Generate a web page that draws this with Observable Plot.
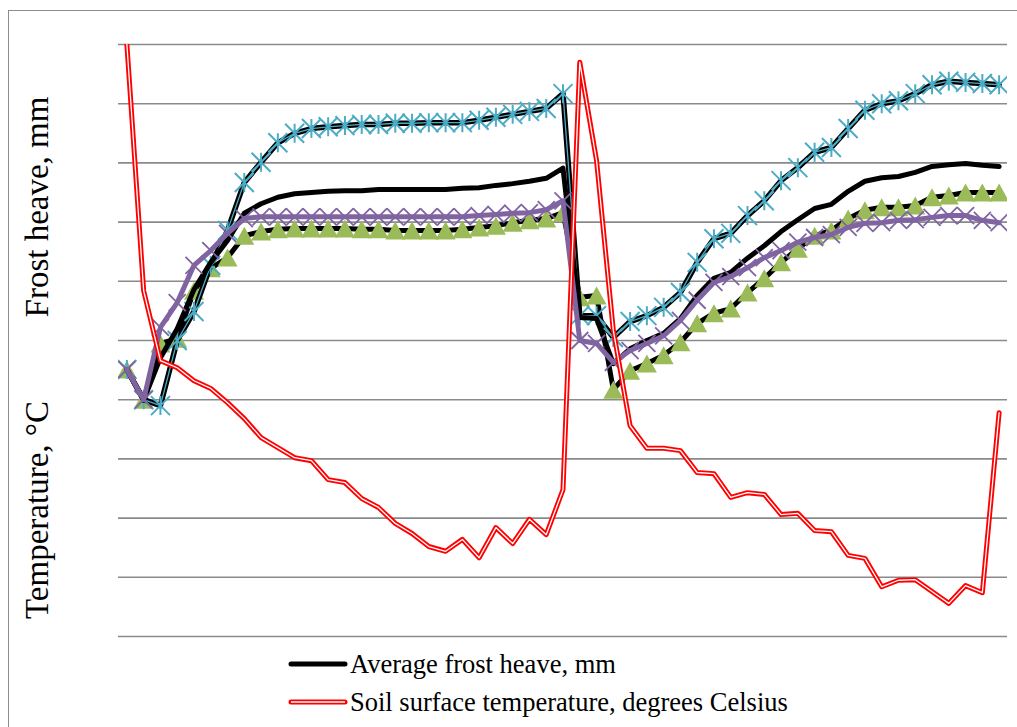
<!DOCTYPE html>
<html><head><meta charset="utf-8">
<script src="https://cdn.jsdelivr.net/npm/d3@7"></script>
<script src="https://cdn.jsdelivr.net/npm/@observablehq/plot@0.6"></script>
<style>
html,body{margin:0;padding:0;background:#fff;overflow:hidden;width:1017px;height:727px;}
#frame{position:absolute;left:8px;top:10px;width:1100px;height:800px;border:1.5px solid #8c8c8c;box-sizing:border-box;}
#chart{position:absolute;left:0;top:0;}
#legend{position:absolute;left:0;top:640px;}
</style></head><body>
<div id="frame"></div>
<div id="chart"></div>
<svg id="legend" width="1017" height="87"></svg>
<script>
// Observation index (category axis, no labels shown)
const obs = [1,2,3,4,5,6,7,8,9,10,11,12,13,14,15,16,17,18,19,20,21,22,23,24,25,26,27,28,29,30,31,32,33,34,35,36,37,38,39,40,41,42,43,44,45,46,47,48,49,50,51,52,53];

// Replicate 1 (cyan star markers)
const rep1 = [45.1,40.0,39.0,50.0,54.9,62.7,68.6,76.7,80.1,83.4,85.0,85.8,86.1,86.3,86.5,86.5,86.7,86.7,86.8,86.8,86.8,87.2,87.7,88.2,88.7,89.2,91.7,54.2,54.2,50.5,53.2,54.2,55.6,58.1,63.2,67.2,68.1,71.1,73.6,77.0,79.2,81.8,82.6,85.8,88.9,90.0,90.5,91.7,93.2,93.8,93.6,93.4,93.2];

// Replicate 2 (green triangle markers)
const rep2 = [45.1,40.0,49.5,50.3,58.4,62.2,64.0,67.7,68.4,68.8,68.9,68.9,68.9,68.9,68.8,68.8,68.6,68.6,68.6,68.6,68.8,69.1,69.4,69.9,70.3,70.6,71.6,57.3,57.6,41.7,44.9,46.1,47.5,49.7,52.9,54.6,55.4,58.1,60.5,63.2,65.5,67.7,68.6,70.6,72.0,72.5,72.5,72.8,74.2,74.5,75.0,75.0,75.0];

// Replicate 3 (purple, x markers)
const rep3 = [45.1,40.0,52.2,56.4,62.7,65.2,68.1,70.6,70.9,70.9,70.9,70.9,70.9,70.9,70.9,70.9,70.9,70.9,70.9,70.9,70.9,71.1,71.3,71.5,71.6,72.1,73.6,50.0,49.5,46.3,48.3,49.5,50.8,53.4,56.8,59.8,60.8,62.3,64.0,65.2,66.6,67.4,67.9,69.1,69.8,69.9,70.3,70.4,70.8,71.1,71.1,70.3,69.9];

// Average frost heave, mm
const avgHeave = [45.1,39.9,47.1,52.0,58.6,63.2,66.9,71.5,73.1,74.2,74.8,75.0,75.2,75.3,75.3,75.5,75.5,75.5,75.5,75.5,75.7,75.8,76.2,76.5,76.9,77.4,79.1,53.9,53.7,46.1,48.6,50.0,51.2,53.7,57.6,60.5,61.5,63.9,66.0,68.4,70.4,72.3,73.0,75.2,76.9,77.5,77.7,78.4,79.4,79.7,79.9,79.6,79.4];

// Soil surface temperature, degrees Celsius
const soilTemp = [100.0,58.4,46.6,45.4,43.2,41.9,39.5,36.8,33.6,31.9,30.2,29.7,26.5,26.0,23.3,21.8,19.1,17.4,15.2,14.4,16.4,13.3,18.4,15.7,19.8,17.2,24.8,97.0,80.4,51.7,35.6,31.8,31.8,31.4,27.7,27.5,23.5,24.3,24.0,20.6,20.8,17.9,17.7,13.7,13.2,8.4,9.5,9.6,7.6,5.6,8.6,7.4,37.8];

const gridValues = [0,10,20,30,40,50,60,70,80,90,100];

const legendLabels = ["Average frost heave, mm", "Soil surface temperature, degrees Celsius"];
const axisTitles = ["Frost heave, mm", "Temperature, \u00B0C"];

const rows = obs.map((o, i) => ({obs: o, rep1: rep1[i], rep2: rep2[i], rep3: rep3[i], avg: avgHeave[i], temp: soilTemp[i]}));

// custom marker shapes (Excel-like), fixed pixel sizes
const starSym = {draw(ctx) {
  const r = 9.5;
  ctx.moveTo(-r, -r); ctx.lineTo(r, r);
  ctx.moveTo(-r, r); ctx.lineTo(r, -r);
  ctx.moveTo(0, -r); ctx.lineTo(0, r);
}};
const xSym = {draw(ctx) {
  const r = 8.5;
  ctx.moveTo(-r, -r); ctx.lineTo(r, r);
  ctx.moveTo(-r, r); ctx.lineTo(r, -r);
}};
const triSym = {draw(ctx) {
  const w = 10, h = 9;
  ctx.moveTo(0, -h);
  ctx.lineTo(w, h);
  ctx.lineTo(-w, h);
  ctx.closePath();
}};

const font = '"Liberation Serif","Times New Roman",serif';

const chart = Plot.plot({
  width: 1017,
  height: 650,
  marginLeft: 118,
  marginRight: 10,
  marginTop: 44,
  marginBottom: 14,
  x: {domain: [0.5, 53.5], axis: null},
  y: {domain: [0, 100], axis: null},
  style: {background: "transparent", fontFamily: font},
  marks: [
    Plot.ruleY(gridValues, {stroke: "#8a8a8a", strokeWidth: 1.6, strokeOpacity: 1}),
    // replicate 2: black line + green triangles
    Plot.line(rows, {x: "obs", y: "rep2", stroke: "#000", strokeWidth: 5, strokeLinejoin: "round", clip: true}),
    Plot.dot(rows, {x: "obs", y: "rep2", r: 8, symbol: triSym, fill: "#9BBB59", stroke: "none", clip: true}),
    // replicate 1: black line + cyan line + star markers
    Plot.line(rows, {x: "obs", y: "rep1", stroke: "#000", strokeWidth: 5.5, strokeLinejoin: "round", clip: true}),
    Plot.line(rows, {x: "obs", y: "rep1", stroke: "#4BACC6", strokeWidth: 1.3, clip: true}),
    Plot.dot(rows, {x: "obs", y: "rep1", r: 8, symbol: starSym, fill: "none", stroke: "#4BACC6", strokeWidth: 2, clip: true}),
    // average
    Plot.line(rows, {x: "obs", y: "avg", stroke: "#000", strokeWidth: 5, strokeLinejoin: "round", clip: true}),
    // replicate 3: purple line + x markers
    Plot.line(rows, {x: "obs", y: "rep3", stroke: "#8064A2", strokeWidth: 5, strokeLinejoin: "round", clip: true}),
    Plot.dot(rows, {x: "obs", y: "rep3", r: 8, symbol: xSym, fill: "none", stroke: "#8064A2", strokeWidth: 1.8, clip: true}),
    // soil temperature: red double line
    Plot.line(rows, {x: "obs", y: "temp", stroke: "#FF0000", strokeWidth: 5, strokeLinejoin: "round", clip: true}),
    Plot.line(rows, {x: "obs", y: "temp", stroke: "#FFFFFF", strokeWidth: 1.3, strokeLinejoin: "round", clip: true})
  ]
});
document.getElementById("chart").appendChild(chart);

// axis titles
const svg = d3.select(chart);
svg.append("text").attr("transform", "translate(48,207) rotate(-90)")
  .attr("text-anchor", "middle").attr("font-family", font).attr("font-size", 33).attr("fill", "#000")
  .text(axisTitles[0]);
svg.append("text").attr("transform", "translate(48,510) rotate(-90)")
  .attr("text-anchor", "middle").attr("font-family", font).attr("font-size", 33).attr("fill", "#000")
  .text(axisTitles[1]);

// legend
const lg = d3.select("#legend");
const rowsY = [24, 62];
lg.append("line").attr("x1", 291).attr("x2", 345).attr("y1", rowsY[0]).attr("y2", rowsY[0])
  .attr("stroke", "#000").attr("stroke-width", 5).attr("stroke-linecap", "round");
lg.append("line").attr("x1", 291).attr("x2", 345).attr("y1", rowsY[1]).attr("y2", rowsY[1])
  .attr("stroke", "#FF0000").attr("stroke-width", 5).attr("stroke-linecap", "round");
lg.append("line").attr("x1", 291).attr("x2", 345).attr("y1", rowsY[1]).attr("y2", rowsY[1])
  .attr("stroke", "#FFFFFF").attr("stroke-width", 1.3);
legendLabels.forEach((t, i) => {
  lg.append("text").attr("x", 350).attr("y", rowsY[i] + 9).attr("font-family", font)
    .attr("font-size", 26.5).attr("fill", "#000").text(t);
});
</script>
</body></html>
